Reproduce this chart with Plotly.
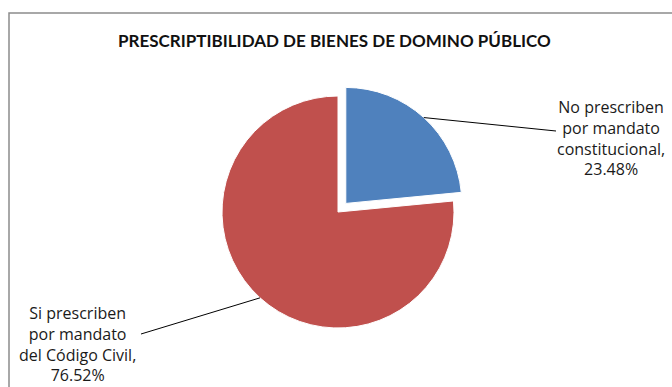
import math
import plotly.graph_objects as go

# ---- data ----
title_text = "PRESCRIPTIBILIDAD DE BIENES DE DOMINO PÚBLICO"
labels = ["No prescriben por mandato constitucional", "Si prescriben por mandato del Código Civil"]
label_lines = [["No prescriben", "por mandato", "constitucional,"],
               ["Si prescriben", "por mandato", "del Código Civil,"]]
values = [23.48, 76.52]
colors = ["#4F81BD", "#C0504D"]
pulls = [0.1, 0.0]

W, H = 672, 387

def px(x):
    return x / W

def py(y):
    return 1 - y / H

# pie geometry (pixels)
cx, cy, R = 338, 212, 116
side = 2 * R * (1 + max(pulls))

fig = go.Figure(go.Pie(
    labels=labels,
    values=values,
    marker=dict(colors=colors, line=dict(color="white", width=1)),
    pull=pulls,
    sort=False,
    direction="clockwise",
    rotation=0,
    textinfo="none",
    hoverinfo="label+percent",
    showlegend=False,
    domain=dict(x=[px(cx - side / 2), px(cx + side / 2)],
                y=[py(cy + side / 2), py(cy - side / 2)]),
))

# leader line start points computed from slice mid-angles
total = sum(values)
starts = []
acc = 0
for v, p in zip(values, pulls):
    mid = (acc + v / 2) / total * 2 * math.pi
    acc += v
    ox = cx + math.sin(mid) * R * p
    oy = cy - math.cos(mid) * R * p
    starts.append((ox + math.sin(mid) * R, oy - math.cos(mid) * R))

label_pos = [(611, 138), (77, 344)]
line_ends = [(556, 131), (141, 334)]

shapes = [
    dict(type="rect", xref="paper", yref="paper",
         x0=px(9), x1=px(W + 5), y0=py(H + 5), y1=py(13),
         line=dict(color="#8c8c8c", width=1.5), fillcolor="rgba(0,0,0,0)"),
]
annotations = []
for i in range(len(values)):
    sx, sy = starts[i]
    ex, ey = line_ends[i]
    shapes.append(dict(type="line", xref="paper", yref="paper",
                       x0=px(sx), y0=py(sy), x1=px(ex), y1=py(ey),
                       line=dict(color="black", width=1)))
    txt = "<br>".join(label_lines[i] + [f"{values[i]:.2f}%"])
    lx, ly = label_pos[i]
    annotations.append(dict(text=txt, x=px(lx), y=py(ly), xref="paper", yref="paper",
                            showarrow=False, align="center", xanchor="center", yanchor="middle",
                            font=dict(family="Open Sans", size=16, color="#1a1a1a")))

annotations.append(dict(text=f"<b>{title_text}</b>", x=px(334), y=py(40), xref="paper", yref="paper",
                        showarrow=False, xanchor="center", yanchor="middle",
                        font=dict(family="Lato", size=17, color="#111111")))

fig.update_layout(
    width=W, height=H,
    margin=dict(l=0, r=0, t=0, b=0),
    paper_bgcolor="white",
    plot_bgcolor="white",
    shapes=shapes,
    annotations=annotations,
)

fig.write_html("out.html")
